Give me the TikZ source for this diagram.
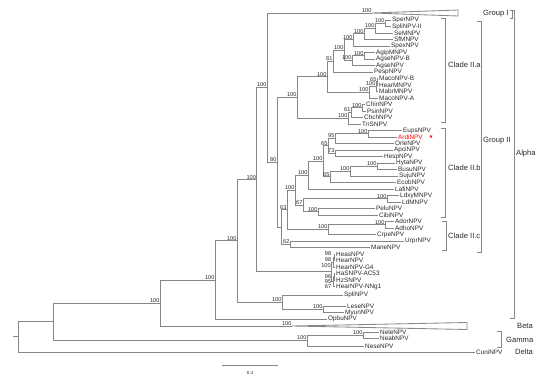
\documentclass[tikz,border=0pt]{standalone}
\usepackage{fontspec}
\setmainfont{Liberation Sans}
\newfontfamily\symfont{DejaVu Sans}
\definecolor{ln}{RGB}{135,135,135}
\definecolor{tx}{RGB}{40,40,40}
\newcommand\lf[4]{\node[leaf] (#1) at (#2,#3) {#4};}
\newcommand\ed[2]{\draw[br] (#1) |- (#2);}
\newcommand\bsl[2]{\node[bs] (#1l) at (#1) {#2};}
\begin{document}
\begin{tikzpicture}[x=1pt,y=-1pt,
 br/.style={draw=ln,line width=0.85pt},
 leaf/.style={anchor=west,inner sep=1pt,text=tx,font=\fontsize{6.4}{7}\selectfont},
 bs/.style={anchor=south east,inner sep=0.4pt,text=tx,font=\fontsize{5.6}{6}\selectfont},
 bsc/.style={anchor=center,inner sep=0.4pt,text=tx,font=\fontsize{5.6}{6}\selectfont},
 grp/.style={anchor=west,inner sep=0pt,text=tx,font=\fontsize{7.6}{9}\selectfont},
 brk/.style={draw=ln,line width=0.7pt}]
\useasboundingbox (0,0) rectangle (550,378);
% ---------- leaves ----------
\lf{sper}{391}{20}{SperNPV}
\lf{splii}{391}{26.5}{SpliNPV-II}
\lf{se}{393}{33}{SeMNPV}
\lf{sf}{393}{39.5}{SfMNPV}
\lf{spex}{390}{46}{SpexNPV}
\lf{agip}{375}{52.5}{AgipMNPV}
\lf{agseb}{375}{59}{AgseNPV-B}
\lf{agse}{375}{65.5}{AgseNPV}
\lf{pesp}{373}{72}{PespNPV}
\lf{macob}{378}{78.5}{MacoNPV-B}
\lf{hearm}{378}{85}{HearMNPV}
\lf{mabr}{378}{91.5}{MabrMNPV}
\lf{macoa}{378}{98}{MacoNPV-A}
\lf{chin}{365}{104.5}{ChinNPV}
\lf{psin}{366}{111}{PsinNPV}
\lf{chch}{363}{117.5}{ChchNPV}
\lf{tn}{361}{124}{TnSNPV}
\lf{eups}{402}{130.5}{EupsNPV}
\node[leaf,text=red] (ardi) at (397,137) {ArdiNPV};
\lf{orle}{394}{143.5}{OrleNPV}
\lf{apci}{393}{150}{ApciNPV}
\lf{hesp}{383}{156.5}{HespNPV}
\lf{hyta}{395}{163}{HytaNPV}
\lf{busu}{397}{169.5}{BusuNPV}
\lf{suju}{398}{176}{SujuNPV}
\lf{ecob}{396}{182.5}{EcobNPV}
\lf{lafi}{394}{189}{LafiNPV}
\lf{ldxy}{399}{195.5}{LdxyMNPV}
\lf{ld}{401}{202}{LdMNPV}
\lf{pelu}{375}{208.5}{PeluNPV}
\lf{cibi}{378}{215}{CibiNPV}
\lf{ador}{394}{221.5}{AdorNPV}
\lf{adho}{394}{228}{AdhoNPV}
\lf{crpe}{376}{234.5}{CrpeNPV}
\lf{urpr}{404}{241}{UrprNPV}
\lf{mane}{370}{247.5}{ManeNPV}
\lf{heas}{335}{254}{HeasNPV}
\lf{hear}{335}{260.5}{HearNPV}
\lf{hg4}{335}{267}{HearNPV-G4}
\lf{ac53}{335}{273.5}{HaSNPV-AC53}
\lf{hz}{335}{280}{HzSNPV}
\lf{nng1}{335}{286.5}{HearNPV-NNg1}
\lf{spli}{343}{295}{SpliNPV}
\lf{lese}{346}{306}{LeseNPV}
\lf{myun}{344}{312.5}{MyunNPV}
\lf{opbu}{327}{319}{OpbuNPV}
\lf{nele}{379}{332}{NeleNPV}
\lf{neab}{379}{338.5}{NeabNPV}
\lf{nese}{364}{346}{NeseNPV}
\lf{cuni}{475}{352}{CuniNPV}
\node[text=red,inner sep=0pt,font=\symfont\fontsize{5}{5}\selectfont] (star) at (431,137) {★};
% ---------- internal nodes ----------
\coordinate (n1) at (385,23.25);
\coordinate (n2) at (375,28.1);
\coordinate (n3) at (364,33.8);
\coordinate (n4) at (353,39.9);
\coordinate (ag1) at (364,55.75);
\coordinate (ag2) at (352,60.6);
\coordinate (n5) at (344,50.25);
\coordinate (n6) at (333,61.1);
\coordinate (m1) at (377,81.75);
\coordinate (m2) at (376,86.6);
\coordinate (m3) at (369,92.3);
\coordinate (nd) at (327,76.7);
\coordinate (ng) at (362,107.75);
\coordinate (nf) at (351,112.6);
\coordinate (ne) at (348,118.3);
\coordinate (nc) at (297,97.5);
\coordinate (ea) at (368,133.75);
\coordinate (eb) at (335,138.6);
\coordinate (n73) at (335,153.25);
\coordinate (n65a) at (328,145.9);
\coordinate (hb) at (377,166.25);
\coordinate (hc) at (350,171.1);
\coordinate (n65b) at (330,176.8);
\coordinate (n161) at (323,161.4);
\coordinate (n175) at (308,175.2);
\coordinate (l1) at (387,198.75);
\coordinate (p1) at (318,211.75);
\coordinate (n67) at (303,205.25);
\coordinate (iib) at (295,190.2);
\coordinate (ad) at (385,224.75);
\coordinate (q) at (328,229.6);
\coordinate (n63) at (287,209.9);
\coordinate (n62) at (290,244.25);
\coordinate (h) at (281,227.1);
\coordinate (b) at (277,162.3);
\coordinate (gI) at (372,13);
\coordinate (a) at (267,87.6);
\coordinate (k1) at (334,257.25);
\coordinate (k2) at (333,262.1);
\coordinate (k4) at (334,276.75);
\coordinate (k5) at (333,281.6);
\coordinate (hx) at (331,271.9);
\coordinate (al2) at (256.5,179.75);
\coordinate (lm) at (323,309.25);
\coordinate (sy) at (282,302.1);
\coordinate (al3) at (237,240.9);
\coordinate (al4) at (215,280);
\coordinate (bt) at (292,326);
\coordinate (r2) at (160,303);
\coordinate (g2) at (363,335.25);
\coordinate (g1) at (307,340.6);
\coordinate (r1) at (53,321.8);
\coordinate (root) at (18,336.9);
\coordinate (stub) at (13,336.9);
% collapsed clades
\coordinate (gIa) at (458,10);
\coordinate (gIb) at (458,16);
\coordinate (bta) at (467,322.5);
\coordinate (btb) at (467,329.5);
\draw[br] (gI) -- (gIa) -- (gIb) -- cycle;
\draw[br] (bt) -- (bta) -- (btb) -- cycle;
% ---------- branches ----------
\ed{n1}{sper.west}\ed{n1}{splii.west}
\ed{n2}{n1}\ed{n2}{se.west}
\ed{n3}{n2}\ed{n3}{sf.west}
\ed{n4}{n3}\ed{n4}{spex.west}
\ed{ag1}{agip.west}\ed{ag1}{agseb.west}
\ed{ag2}{ag1}\ed{ag2}{agse.west}
\ed{n5}{n4}\ed{n5}{ag2}
\ed{n6}{n5}\ed{n6}{pesp.west}
\ed{m1}{macob.west}\ed{m1}{hearm.west}
\ed{m2}{m1}\ed{m2}{mabr.west}
\ed{m3}{m2}\ed{m3}{macoa.west}
\ed{nd}{n6}\ed{nd}{m3}
\ed{ng}{chin.west}\ed{ng}{psin.west}
\ed{nf}{ng}\ed{nf}{chch.west}
\ed{ne}{nf}\ed{ne}{tn.west}
\ed{nc}{nd}\ed{nc}{ne}
\ed{ea}{eups.west}\ed{ea}{ardi.west}
\ed{eb}{ea}\ed{eb}{orle.west}
\ed{n73}{apci.west}\ed{n73}{hesp.west}
\ed{n65a}{eb}\ed{n65a}{n73}
\ed{hb}{hyta.west}\ed{hb}{busu.west}
\ed{hc}{hb}\ed{hc}{suju.west}
\ed{n65b}{hc}\ed{n65b}{ecob.west}
\ed{n161}{n65a}\ed{n161}{n65b}
\ed{n175}{n161}\ed{n175}{lafi.west}
\ed{l1}{ldxy.west}\ed{l1}{ld.west}
\ed{p1}{pelu.west}\ed{p1}{cibi.west}
\ed{n67}{l1}\ed{n67}{p1}
\ed{iib}{n175}\ed{iib}{n67}
\ed{ad}{ador.west}\ed{ad}{adho.west}
\ed{q}{ad}\ed{q}{crpe.west}
\ed{n63}{iib}\ed{n63}{q}
\ed{n62}{urpr.west}\ed{n62}{mane.west}
\ed{h}{n63}\ed{h}{n62}
\ed{b}{nc}\ed{b}{h}
\ed{a}{gI}\ed{a}{b}
\ed{k1}{heas.west}\ed{k1}{hear.west}
\ed{k2}{k1}\ed{k2}{hg4.west}
\ed{k4}{ac53.west}\ed{k4}{hz.west}
\ed{k5}{k4}\ed{k5}{nng1.west}
\ed{hx}{k2}\ed{hx}{k5}
\ed{al2}{a}\ed{al2}{hx}
\ed{lm}{lese.west}\ed{lm}{myun.west}
\ed{sy}{spli.west}\ed{sy}{lm}
\ed{al3}{al2}\ed{al3}{sy}
\ed{al4}{al3}\ed{al4}{opbu.west}
\ed{r2}{al4}\ed{r2}{bt}
\ed{g2}{nele.west}\ed{g2}{neab.west}
\ed{g1}{g2}\ed{g1}{nese.west}
\ed{r1}{r2}\ed{r1}{g1}
\ed{root}{r1}\ed{root}{cuni.west}
\draw[br] (stub) -- (root);
% ---------- support values ----------
\bsl{n1}{100}\bsl{n2}{100}\bsl{n3}{100}\bsl{n4}{100}
\bsl{ag1}{100}\bsl{ag2}{100}\bsl{n5}{100}\bsl{n6}{81}
\bsl{m1}{65}\bsl{m2}{100}\bsl{m3}{100}\bsl{nd}{100}
\bsl{ng}{100}\bsl{nf}{61}\bsl{ne}{100}\bsl{nc}{100}
\bsl{ea}{100}\bsl{eb}{95}\bsl{n73}{73}\bsl{n65a}{65}
\bsl{hb}{100}\bsl{hc}{100}\bsl{n65b}{65}\bsl{n161}{100}
\bsl{n175}{100}\bsl{l1}{100}\bsl{p1}{100}\bsl{n67}{67}
\bsl{iib}{100}\bsl{ad}{100}\bsl{q}{100}\bsl{n63}{63}
\bsl{n62}{62}\bsl{b}{80}\bsl{a}{100}\bsl{gI}{100}
\bsl{al2}{100}\bsl{al3}{100}\bsl{al4}{100}\bsl{r2}{100}
\bsl{bt}{100}\bsl{sy}{100}\bsl{lm}{100}\bsl{g2}{100}\bsl{g1}{100}
\node[bsc] (hl1) at (328,254) {98};
\node[bsc] (hl2) at (328,260) {98};
\node[bsc] (hl3) at (326,266) {100};
\node[bsc] (hl4) at (328,277) {96};
\node[bsc] (hl5) at (328,282) {95};
\node[bsc] (hl6) at (328,287) {67};
% ---------- brackets ----------
\draw[brk] (510,10) -- (512,10) -- (512,18) -- (510,18);
\draw[brk] (441,18) -- (445,18) -- (445,122) -- (441,122);
\draw[brk] (441,128) -- (445,128) -- (445,217) -- (441,217);
\draw[brk] (442,221) -- (446,221) -- (446,250) -- (442,250);
\draw[brk] (477,21) -- (481,21) -- (481,252) -- (477,252);
\draw[brk] (510,10) -- (514,10) -- (514,318) -- (510,318);
\draw[brk] (497,331) -- (501,331) -- (501,347) -- (497,347);
\node[grp] (lgI) at (483,14) {Group I};
\node[grp] (lIIa) at (448,65) {Clade II.a};
\node[grp] (lIIb) at (448,168) {Clade II.b};
\node[grp] (lIIc) at (448,236) {Clade II.c};
\node[grp] (lgII) at (483,141) {Group II};
\node[grp] (lal) at (516,154) {Alpha};
\node[grp] (lbe) at (517,326) {Beta};
\node[grp] (lga) at (506,340) {Gamma};
\node[grp] (lde) at (515,352) {Delta};
% ---------- scale bar ----------
\coordinate (sb1) at (222,365);
\coordinate (sb2) at (278,365);
\draw[br] (sb1) -- (sb2);
\node[bsc,font=\fontsize{4.5}{5}\selectfont] (sbl) at (250,373) {0.4};
\end{tikzpicture}
\end{document}
